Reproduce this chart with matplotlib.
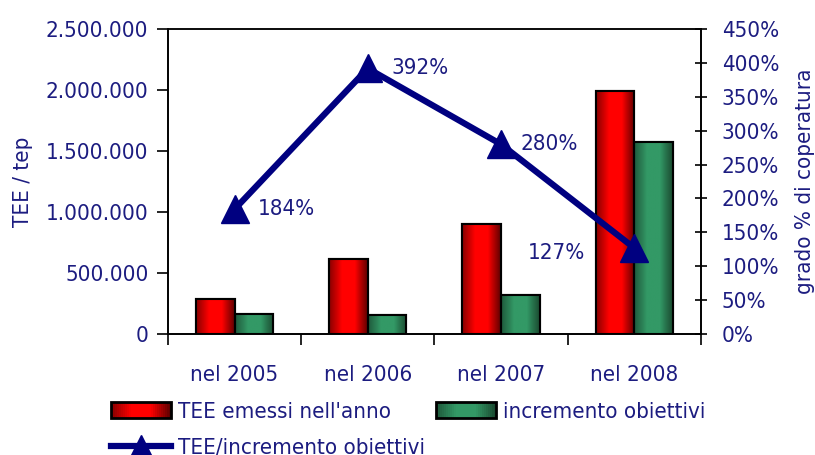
import numpy as np
import matplotlib
matplotlib.use("Agg")
from matplotlib import pyplot as plt
from matplotlib import font_manager
from matplotlib.colors import LinearSegmentedColormap
from matplotlib.patches import Rectangle
from matplotlib.lines import Line2D
from matplotlib.legend_handler import HandlerBase
from matplotlib.ticker import FuncFormatter, FixedLocator

# look for a condensed face, else fall back to Liberation Sans
narrow = [f for f in font_manager.fontManager.ttflist
          if ("Narrow" in f.name or f.stretch in ("condensed", "semi-condensed"))
          and f.weight in (400, "normal", "regular") and f.style == "normal"]
if narrow:
    fam = narrow[0].name
    plt.rcParams['font.stretch'] = narrow[0].stretch
    fs = 16
else:
    fam = "Liberation Sans"
    fs = 15
plt.rcParams['font.family'] = [fam, 'DejaVu Sans']

years = ["nel 2005", "nel 2006", "nel 2007", "nel 2008"]
tee_emessi = [287000, 615000, 902000, 1990000]
incremento = [160000, 156000, 320000, 1572000]
copertura = [184, 392, 280, 127]

navy = "#000080"
txt = "#1c1c80"

red_cm = LinearSegmentedColormap.from_list("r", ["#8a0000", "#ff0000", "#ff0000", "#600000"])
green_cm = LinearSegmentedColormap.from_list("g", ["#1f5a3c", "#339966", "#339966", "#1a4a30"])
grad = np.linspace(0, 1, 64).reshape(1, -1)

fig = plt.figure(figsize=(8.15, 4.55), dpi=100)
ax = fig.add_axes([0.206, 0.266, 0.654, 0.670])

x = np.arange(len(years))
w = 0.29
bars1 = ax.bar(x - w/2, tee_emessi, w, color="red", edgecolor="black", lw=1.5, zorder=2)
bars2 = ax.bar(x + w/2, incremento, w, color="#339966", edgecolor="black", lw=1.5, zorder=2)

# gradient fill clipped to each bar
for bars, cm in [(bars1, red_cm), (bars2, green_cm)]:
    for b in bars:
        x0, y0 = b.get_x(), b.get_y()
        im = ax.imshow(grad, cmap=cm, aspect="auto", zorder=2.5,
                       extent=(x0, x0 + b.get_width(), y0, y0 + b.get_height()))
        im.set_clip_path(b)
        r = Rectangle((x0, y0), b.get_width(), b.get_height(), fill=False,
                      edgecolor="black", lw=1.5, zorder=3)
        ax.add_patch(r)

ax.set_xlim(-0.5, len(years) - 0.5)
ax.set_ylim(0, 2500000)
ax.set_yticks(np.arange(0, 2500001, 500000))
ax.yaxis.set_major_formatter(FuncFormatter(lambda v, p: f"{int(v):,}".replace(",", ".")))
ax.set_xticks(x)
ax.set_xticklabels(years)
ax.xaxis.set_minor_locator(FixedLocator(np.arange(-0.5, len(years), 1.0)))
ax.tick_params(axis="x", which="major", length=0, pad=22, labelsize=fs, labelcolor=txt)
ax.tick_params(axis="x", which="minor", length=8, width=1.2, direction="out")
ax.tick_params(axis="y", length=8, width=1.2, direction="out", labelsize=fs, labelcolor=txt, pad=6)
ax.set_ylabel("TEE / tep", fontsize=fs, color=txt)
ax.yaxis.set_label_coords(-0.253, 0.5)
for s in ax.spines.values():
    s.set_linewidth(1.2)
ax.spines["top"].set_color("#444444")

ax2 = ax.twinx()
ax2.set_ylim(0, 450)
ax2.set_yticks(np.arange(0, 451, 50))
ax2.yaxis.set_major_formatter(FuncFormatter(lambda v, p: f"{int(v)}%"))
ax2.tick_params(axis="y", length=8, width=1.2, direction="inout", labelsize=fs, labelcolor=txt, pad=11)
ax2.set_ylabel("grado % di coperatura", fontsize=fs, color=txt)
ax2.yaxis.set_label_coords(1.176, 0.5)
ax2.plot(x, copertura, color=navy, lw=4.5, marker="^", markersize=20, zorder=5)
offsets = [(17, 0, "left"), (17, 0, "left"), (14, 0, "left"), (-35, -4, "right")]
for xi, v, (dx, dy, ha) in zip(x, copertura, offsets):
    ax2.annotate(f"{v}%", (xi, v), xytext=(dx, dy), textcoords="offset points",
                 ha=ha, va="center", fontsize=fs, color=txt)
for s in ax2.spines.values():
    s.set_linewidth(1.2)


class GradHandler(HandlerBase):
    def __init__(self, cm):
        super().__init__()
        self.cm = cm

    def create_artists(self, legend, orig, xd, yd, width, height, fontsize, trans):
        arts = []
        n = 30
        for i in range(n):
            arts.append(Rectangle((xd + width * i / n, yd), width / n + 0.3, height,
                                  facecolor=self.cm(i / (n - 1)), lw=0, transform=trans))
        arts.append(Rectangle((xd, yd), width, height, fill=False, edgecolor="black",
                              lw=2, transform=trans))
        return arts


h_red = Rectangle((0, 0), 1, 1)
h_green = Rectangle((0, 0), 1, 1)
h_line = Line2D([], [], color=navy, lw=4.5, marker="^", markersize=16)
leg = fig.legend([h_red, h_line, h_green],
                 ["TEE emessi nell'anno", "TEE/incremento obiettivi", "incremento obiettivi"],
                 handler_map={h_red: GradHandler(red_cm), h_green: GradHandler(green_cm)},
                 ncol=2, loc="upper left", bbox_to_anchor=(0.123, 0.142),
                 frameon=False, fontsize=fs, handlelength=2.7, handleheight=0.7,
                 handletextpad=0.3, columnspacing=0.5, labelspacing=0.73, borderpad=0)
for t in leg.get_texts():
    t.set_color(txt)

fig.savefig("out.png", dpi=100)
